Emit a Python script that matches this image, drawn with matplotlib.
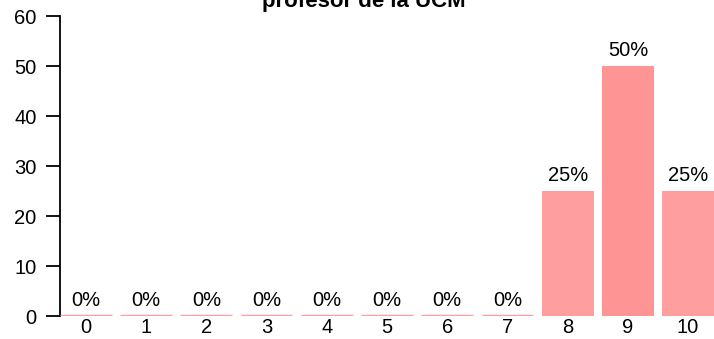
import matplotlib
matplotlib.use("Agg")
import matplotlib.pyplot as plt

categories = ["0", "1", "2", "3", "4", "5", "6", "7", "8", "9", "10"]
values = [0, 0, 0, 0, 0, 0, 0, 0, 25, 50, 25]
labels = ["0%", "0%", "0%", "0%", "0%", "0%", "0%", "0%", "25%", "50%", "25%"]
title = "profesor de la UCM"

plt.rcParams['font.family'] = ['Liberation Sans', 'DejaVu Sans']

fig = plt.figure(figsize=(7.14, 3.39), dpi=100)
ax = fig.add_axes([60/714, 23/339, 654/714, 300/339])

x = list(range(len(categories)))
colors = ['#FF9494' if v == max(values) else '#FF9E9E' for v in values]
ax.bar(x, values, width=0.86, color=colors, linewidth=0)
for xi, v in zip(x, values):
    if v == 0:
        ax.hlines(0, xi - 0.43, xi + 0.43, color='#FFA0A0', linewidth=2.5,
                  zorder=3, capstyle='butt')
for xi, v, lab in zip(x, values, labels):
    ax.annotate(lab, (xi, v), xytext=(0, 7.5), textcoords='offset points',
                ha='center', va='baseline', fontsize=14.5, color='black')

ax.set_xlim(-0.43, 10.43)
ax.set_ylim(0, 60)
ax.set_yticks([0, 10, 20, 30, 40, 50, 60])
ax.set_xticks(x)
ax.set_xticklabels(categories)
ax.tick_params(axis='x', length=0, pad=1.5, labelsize=14.5)
ax.tick_params(axis='y', length=10, width=1.3, pad=7, labelsize=14.5)
for s in ['top', 'right', 'bottom']:
    ax.spines[s].set_visible(False)
ax.spines['left'].set_linewidth(1.3)
ax.spines['left'].set_bounds(0, 60)

fig.text(364/714, 1 - 7/339, title, ha='center', va='baseline',
         fontsize=16, fontweight='bold')

fig.savefig('out.png', dpi=100)
